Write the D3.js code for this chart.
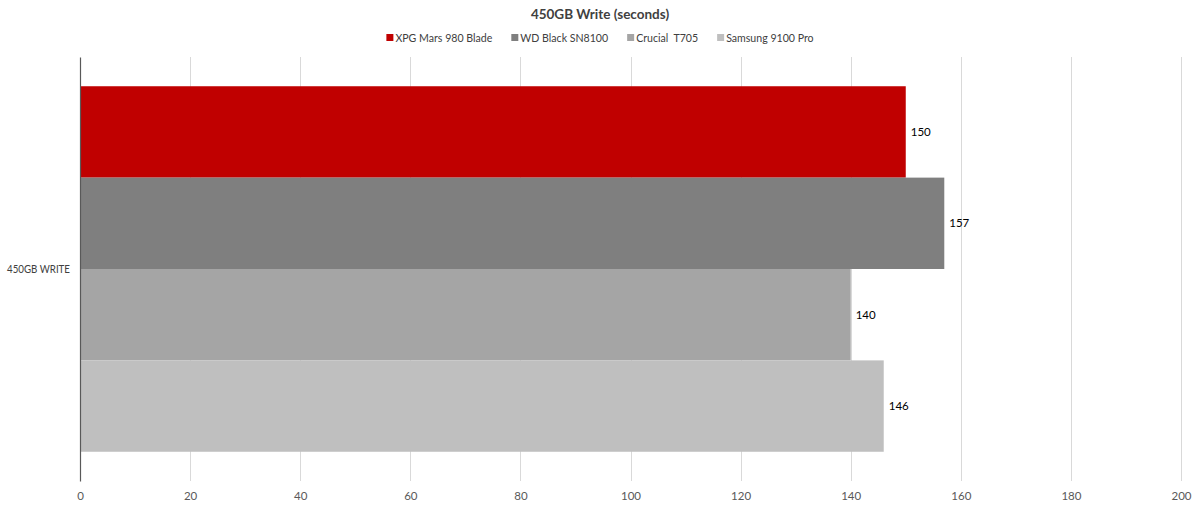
<!DOCTYPE html>
<html>
<head>
<meta charset="utf-8">
<script src="https://cdn.jsdelivr.net/npm/d3@7"></script>
<style>
  body { margin: 0; background: #fff; }
  svg { font-family: Lato, "Open Sans", sans-serif; }
</style>
</head>
<body>
<svg id="chart"></svg>
<script>
// chart data
const categories = ['450GB WRITE'];
const seriesNames = ['XPG Mars 980 Blade', 'WD Black SN8100', 'Crucial  T705', 'Samsung 9100 Pro'];
const seriesValues = [150, 157, 140, 146];
const seriesColors = ['#c00000', '#7f7f7f', '#a5a5a5', '#bfbfbf'];
const xTicks = [0, 20, 40, 60, 80, 100, 120, 140, 160, 180, 200];

const width = 1200, height = 509;
const margin = { top: 57, right: 19, bottom: 28, left: 80 };
const fontFam = 'Lato, "Open Sans", sans-serif';

let svg = d3.select('#chart')
  .attr('width', width)
  .attr('height', height);

let xScale = d3.scaleLinear()
  .domain([0, 200])
  .range([margin.left, width - margin.right]);

let yScale = d3.scaleBand()
  .domain(categories)
  .range([margin.top, height - margin.bottom])
  .paddingInner(0)
  .paddingOuter(0.08);

let ySeries = d3.scaleBand()
  .domain(seriesNames)
  .range([0, yScale.bandwidth()]);

// gridlines
svg.append('g')
  .selectAll('line')
  .data(xTicks.slice(1))
  .enter()
  .append('line')
  .attr('x1', d => Math.round(xScale(d)) + 0.5)
  .attr('x2', d => Math.round(xScale(d)) + 0.5)
  .attr('y1', margin.top)
  .attr('y2', height - margin.bottom)
  .attr('stroke', '#d9d9d9')
  .attr('stroke-width', 1);

// bars
let rows = seriesNames.map((name, i) => ({ name: name, value: seriesValues[i], color: seriesColors[i], cat: categories[0] }));

svg.append('g')
  .selectAll('rect')
  .data(rows)
  .enter()
  .append('rect')
  .attr('x', xScale(0))
  .attr('y', d => yScale(d.cat) + ySeries(d.name))
  .attr('width', d => xScale(d.value) - xScale(0))
  .attr('height', ySeries.bandwidth())
  .attr('fill', d => d.color);

// value labels
svg.append('g')
  .selectAll('text')
  .data(rows)
  .enter()
  .append('text')
  .attr('x', d => xScale(d.value) + 5)
  .attr('y', d => yScale(d.cat) + ySeries(d.name) + ySeries.bandwidth() / 2)
  .attr('dy', '0.35em')
  .attr('font-size', 11.5)
  .attr('fill', '#000')
  .text(d => d.value);

// x axis labels
let xAxis = svg.append('g')
  .attr('transform', 'translate(0,' + (height - margin.bottom) + ')')
  .call(d3.axisBottom(xScale).tickValues(xTicks).tickSize(0).tickPadding(11));
xAxis.select('.domain').remove();
xAxis.selectAll('text')
  .attr('font-size', 11.5)
  .attr('font-family', fontFam)
  .attr('fill', '#595959');

// y axis
let yAxis = svg.append('g')
  .attr('transform', 'translate(' + margin.left + ',0)')
  .call(d3.axisLeft(yScale).tickSize(0).tickPadding(10));
yAxis.select('.domain')
  .attr('stroke', '#595959')
  .attr('stroke-width', 1.2);
yAxis.selectAll('text')
  .attr('font-size', 11)
  .attr('font-family', fontFam)
  .attr('fill', '#404040')
  .each(function () {
    // keep the category label inside the left margin, like the narrow original font
    if (this.getComputedTextLength() > 63) {
      d3.select(this).attr('textLength', 63).attr('lengthAdjust', 'spacingAndGlyphs');
    }
  });

// title
svg.append('text')
  .attr('x', width / 2)
  .attr('y', 19)
  .attr('text-anchor', 'middle')
  .attr('font-size', 13.5)
  .attr('font-weight', 'bold')
  .attr('fill', '#404040')
  .text('450GB Write (seconds)');

// legend
let legend = svg.append('g').attr('transform', 'translate(0,38)');
let items = legend.selectAll('g')
  .data(rows)
  .enter()
  .append('g');
items.append('rect')
  .attr('y', -4)
  .attr('width', 7)
  .attr('height', 7)
  .attr('fill', d => d.color);
items.append('text')
  .attr('x', 9)
  .attr('dy', '0.35em')
  .attr('font-size', 10.6)
  .attr('fill', '#404040')
  .style('white-space', 'pre')
  .text(d => d.name);

let itemGap = 19;
let widths = [];
items.each(function () { widths.push(9 + d3.select(this).select('text').node().getComputedTextLength()); });
let total = d3.sum(widths) + itemGap * (widths.length - 1);
let pos = width / 2 - total / 2;
items.attr('transform', (d, i) => {
  let t = 'translate(' + pos + ',0)';
  pos += widths[i] + itemGap;
  return t;
});
</script>
</body>
</html>
